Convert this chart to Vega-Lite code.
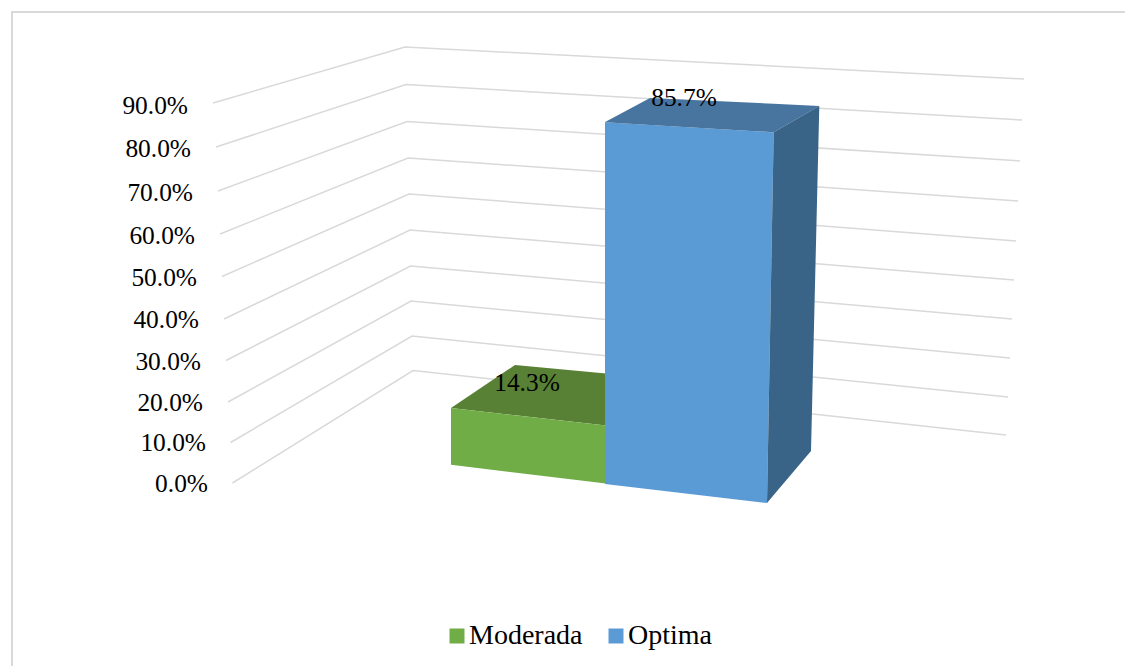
{
 "$schema":"https://vega.github.io/schema/vega-lite/v6.json",
 "width":1118,"height":668,
 "padding":{"left":12,"top":12,"right":0,"bottom":0},
 "autosize":{"type":"none"},
 "background":"white",
 "view":{"stroke":"#d9d9d9","strokeWidth":2,"fill":"white"},
 "datasets":{
  "grid":[
   {"pct":0.9,"x":213,"y":103},{"pct":0.9,"x":405,"y":47},{"pct":0.9,"x":1024,"y":79},
   {"pct":0.8,"x":216,"y":147},{"pct":0.8,"x":406,"y":84.5},{"pct":0.8,"x":1022,"y":120},
   {"pct":0.7,"x":218,"y":191},{"pct":0.7,"x":407,"y":121.5},{"pct":0.7,"x":1020,"y":161},
   {"pct":0.6,"x":220,"y":234},{"pct":0.6,"x":408,"y":158},{"pct":0.6,"x":1018,"y":201},
   {"pct":0.5,"x":222,"y":276.5},{"pct":0.5,"x":409,"y":194},{"pct":0.5,"x":1016,"y":241},
   {"pct":0.4,"x":224,"y":319},{"pct":0.4,"x":410,"y":230},{"pct":0.4,"x":1014,"y":280},
   {"pct":0.3,"x":226,"y":360.5},{"pct":0.3,"x":410.5,"y":266},{"pct":0.3,"x":1012,"y":319},
   {"pct":0.2,"x":228,"y":402},{"pct":0.2,"x":411,"y":301},{"pct":0.2,"x":1010,"y":358},
   {"pct":0.1,"x":230.5,"y":442.5},{"pct":0.1,"x":412,"y":336},{"pct":0.1,"x":1008,"y":397},
   {"pct":0.0,"x":232.5,"y":483},{"pct":0.0,"x":413,"y":370.5},{"pct":0.0,"x":1006,"y":435}
  ],
  "faces":[
   {"series":"Moderada","face":"top","x":451,"y":408,"y2":408},
   {"series":"Moderada","face":"top","x":515,"y":365,"y2":415.3},
   {"series":"Moderada","face":"top","x":606,"y":373.5,"y2":425.6},
   {"series":"Moderada","face":"front","x":451,"y":408,"y2":464.8},
   {"series":"Moderada","face":"front","x":606,"y":425.6,"y2":483.5},
   {"series":"Optima","face":"front","x":605,"y":122.3,"y2":484},
   {"series":"Optima","face":"front","x":767,"y":131.9,"y2":503},
   {"series":"Optima","face":"front","x":773.7,"y":132.3,"y2":132.3},
   {"series":"Optima","face":"top","x":604.7,"y":122.3,"y2":122.3},
   {"series":"Optima","face":"top","x":650,"y":98,"y2":125},
   {"series":"Optima","face":"top","x":773.7,"y":103.8,"y2":132.3},
   {"series":"Optima","face":"top","x":819.3,"y":106,"y2":106},
   {"series":"Optima","face":"side","x":767,"y":503,"y2":503},
   {"series":"Optima","face":"side","x":773.7,"y":132.3,"y2":495},
   {"series":"Optima","face":"side","x":811,"y":110.8,"y2":451},
   {"series":"Optima","face":"side","x":819.3,"y":106,"y2":106}
  ],
  "ticks":[
   {"pct":0.9,"x":188,"y":105.5},{"pct":0.8,"x":191,"y":148.5},{"pct":0.7,"x":193,"y":192.5},
   {"pct":0.6,"x":195,"y":235.5},{"pct":0.5,"x":197,"y":277.5},{"pct":0.4,"x":199,"y":319.5},
   {"pct":0.3,"x":201,"y":361.5},{"pct":0.2,"x":203,"y":402.5},{"pct":0.1,"x":206,"y":442.5},
   {"pct":0.0,"x":208,"y":484}
  ],
  "labels":[
   {"series":"Moderada","value":0.143,"x":527,"y":383},
   {"series":"Optima","value":0.857,"x":684,"y":98}
  ]
 },
 "encoding":{
  "x":{"field":"x","type":"quantitative","scale":{"domain":[12,1130],"nice":false,"zero":false},"axis":null},
  "y":{"field":"y","type":"quantitative","scale":{"domain":[12,680],"reverse":true,"nice":false,"zero":false},"axis":null}
 },
 "layer":[
  {"data":{"name":"grid"},"mark":{"type":"line","stroke":"#d9d9d9","strokeWidth":1.5},"encoding":{"detail":{"field":"pct"}}},
  {"data":{"name":"faces"},"transform":[{"filter":"datum.series==='Moderada' && datum.face==='top'"}],
   "mark":{"type":"area","color":"#588135"},"encoding":{"y2":{"field":"y2"}}},
  {"data":{"name":"faces"},"transform":[{"filter":"datum.face==='front'"}],
   "mark":{"type":"area"},
   "encoding":{"y2":{"field":"y2"},
    "color":{"field":"series","type":"nominal","scale":{"domain":["Moderada","Optima"],"range":["#70AD47","#5B9BD5"]},
     "legend":{"title":null,"orient":"none","legendX":431,"legendY":610,"direction":"horizontal","columns":2,"symbolType":"square","symbolSize":225,"symbolStrokeWidth":0,"symbolOpacity":1,"labelFont":"Liberation Serif","labelFontSize":28,"labelColor":"#000000","labelOffset":-2,"columnPadding":19,"labelLimit":300,"symbolOffset":0,"padding":0}}}},
  {"data":{"name":"faces"},"transform":[{"filter":"datum.series==='Optima' && datum.face==='top'"}],
   "mark":{"type":"area","color":"#47759F"},"encoding":{"y2":{"field":"y2"}}},
  {"data":{"name":"faces"},"transform":[{"filter":"datum.face==='side'"}],
   "mark":{"type":"area","color":"#396488"},"encoding":{"y2":{"field":"y2"}}},
  {"data":{"name":"labels"},"mark":{"type":"text","font":"Liberation Serif","fontSize":25.4,"color":"#000000","align":"center","baseline":"middle"},
   "encoding":{"text":{"field":"value","type":"quantitative","format":".1%"}}},
  {"data":{"name":"ticks"},"mark":{"type":"text","font":"Liberation Serif","fontSize":25.4,"color":"#000000","align":"right","baseline":"middle"},
   "encoding":{"text":{"field":"pct","type":"quantitative","format":".1%"}}}
 ]
}
